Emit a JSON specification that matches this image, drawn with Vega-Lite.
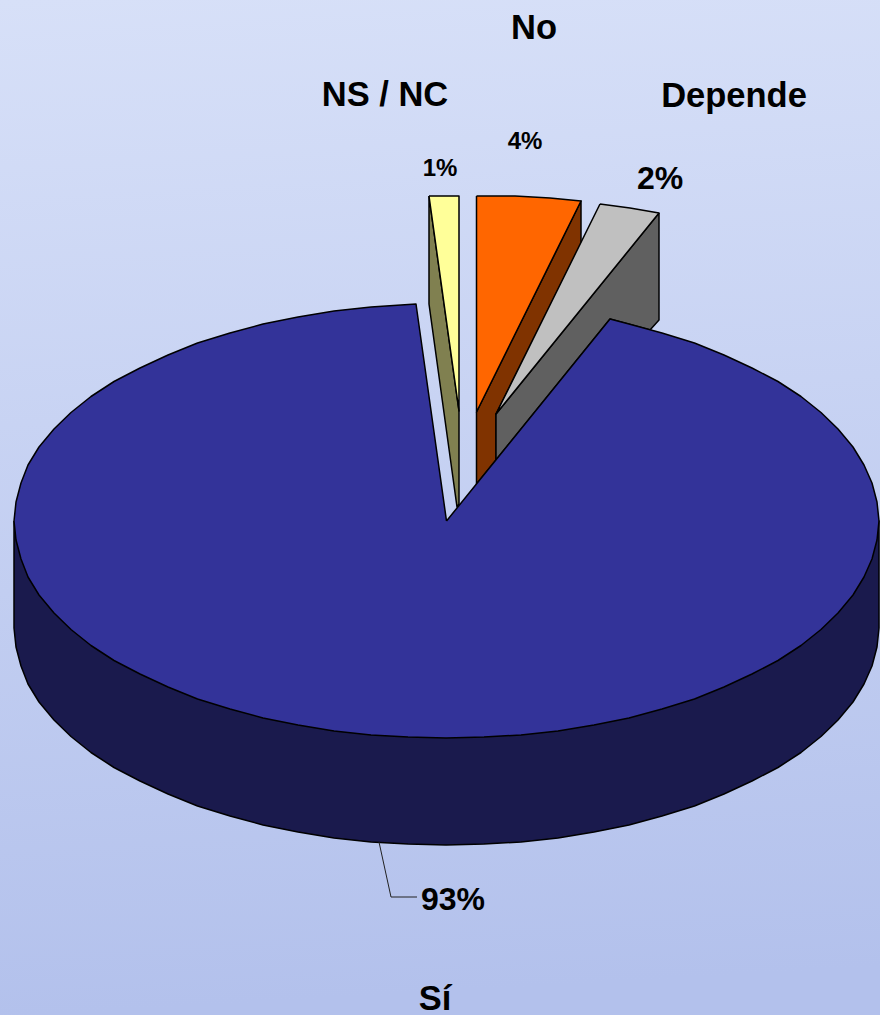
{"$schema":"https://vega.github.io/schema/vega-lite/v6.json","width":880,"height":1015,"padding":0,"autosize":{"type":"none"},"background":"#c5d0f1","view":{"stroke":null},
"datasets":{"shapes":[
{"p":"side","x":14,"y":521},{"p":"side","x":14,"y":628},{"p":"side","x":16,"y":647},{"p":"side","x":21,"y":666},{"p":"side","x":28,"y":684},{"p":"side","x":39,"y":702},{"p":"side","x":54,"y":720},{"p":"side","x":71,"y":736.5},{"p":"side","x":91,"y":752.5},{"p":"side","x":114,"y":767.5},{"p":"side","x":140,"y":781},{"p":"side","x":168,"y":794},{"p":"side","x":197.5,"y":806},{"p":"side","x":230,"y":816},{"p":"side","x":263,"y":825},{"p":"side","x":298,"y":832},{"p":"side","x":334,"y":838},{"p":"side","x":371,"y":842},{"p":"side","x":408,"y":844},{"p":"side","x":446,"y":845},{"p":"side","x":484,"y":844},{"p":"side","x":521,"y":842},{"p":"side","x":558,"y":838},{"p":"side","x":594,"y":832},{"p":"side","x":629,"y":825},{"p":"side","x":662,"y":816},{"p":"side","x":694.5,"y":806},{"p":"side","x":724,"y":794},{"p":"side","x":752,"y":781},{"p":"side","x":778,"y":767.5},{"p":"side","x":801,"y":752.5},{"p":"side","x":821,"y":736.5},{"p":"side","x":838,"y":720},{"p":"side","x":853,"y":702},{"p":"side","x":864,"y":684},{"p":"side","x":872,"y":666},{"p":"side","x":877,"y":647},{"p":"side","x":879,"y":628},{"p":"side","x":879,"y":521},{"p":"side","x":14,"y":521},
{"p":"ns side","x":429,"y":196},{"p":"ns side","x":459,"y":411},{"p":"ns side","x":459,"y":504},{"p":"ns side","x":457,"y":507},{"p":"ns side","x":429,"y":304},{"p":"ns side","x":429,"y":196},
{"p":"ns top","x":429,"y":196},{"p":"ns top","x":459,"y":196},{"p":"ns top","x":459,"y":411},{"p":"ns top","x":429,"y":196},
{"p":"no side","x":476.5,"y":412},{"p":"no side","x":581,"y":201},{"p":"no side","x":581,"y":244},{"p":"no side","x":496,"y":414},{"p":"no side","x":496,"y":460},{"p":"no side","x":476.5,"y":484},{"p":"no side","x":476.5,"y":412},
{"p":"no top","x":476.5,"y":196},{"p":"no top","x":515,"y":196},{"p":"no top","x":550,"y":198},{"p":"no top","x":581,"y":201},{"p":"no top","x":476.5,"y":412},{"p":"no top","x":476.5,"y":196},
{"p":"dep side","x":659,"y":213},{"p":"dep side","x":659,"y":320},{"p":"dep side","x":650,"y":330},{"p":"dep side","x":610,"y":319},{"p":"dep side","x":496,"y":460},{"p":"dep side","x":496,"y":414},{"p":"dep side","x":659,"y":213},
{"p":"dep top","x":600,"y":204},{"p":"dep top","x":630,"y":208},{"p":"dep top","x":659,"y":213},{"p":"dep top","x":496,"y":414},{"p":"dep top","x":600,"y":204},
{"p":"si top","x":446.5,"y":521},{"p":"si top","x":610,"y":319},{"p":"si top","x":629,"y":324},{"p":"si top","x":662,"y":333},{"p":"si top","x":694.5,"y":343},{"p":"si top","x":724,"y":355},{"p":"si top","x":752,"y":368},{"p":"si top","x":778,"y":381.5},{"p":"si top","x":801,"y":396.5},{"p":"si top","x":821,"y":412.5},{"p":"si top","x":838,"y":429},{"p":"si top","x":853,"y":447},{"p":"si top","x":864,"y":465},{"p":"si top","x":872,"y":483},{"p":"si top","x":877,"y":502},{"p":"si top","x":879,"y":521},{"p":"si top","x":877,"y":540},{"p":"si top","x":872,"y":559},{"p":"si top","x":864,"y":577},{"p":"si top","x":853,"y":595},{"p":"si top","x":838,"y":613},{"p":"si top","x":821,"y":629.5},{"p":"si top","x":801,"y":645.5},{"p":"si top","x":778,"y":660.5},{"p":"si top","x":752,"y":674},{"p":"si top","x":724,"y":687},{"p":"si top","x":694.5,"y":699},{"p":"si top","x":662,"y":709},{"p":"si top","x":629,"y":718},{"p":"si top","x":594,"y":725},{"p":"si top","x":558,"y":731},{"p":"si top","x":521,"y":735},{"p":"si top","x":484,"y":737},{"p":"si top","x":446,"y":738},{"p":"si top","x":408,"y":737},{"p":"si top","x":371,"y":735},{"p":"si top","x":334,"y":731},{"p":"si top","x":298,"y":725},{"p":"si top","x":263,"y":718},{"p":"si top","x":230,"y":709},{"p":"si top","x":197.5,"y":699},{"p":"si top","x":168,"y":687},{"p":"si top","x":140,"y":674},{"p":"si top","x":114,"y":660.5},{"p":"si top","x":91,"y":645.5},{"p":"si top","x":71,"y":629.5},{"p":"si top","x":54,"y":613},{"p":"si top","x":39,"y":595},{"p":"si top","x":28,"y":577},{"p":"si top","x":21,"y":559},{"p":"si top","x":16,"y":540},{"p":"si top","x":14,"y":521},{"p":"si top","x":16,"y":502},{"p":"si top","x":21,"y":483},{"p":"si top","x":28,"y":465},{"p":"si top","x":39,"y":447},{"p":"si top","x":54,"y":429},{"p":"si top","x":71,"y":412.5},{"p":"si top","x":91,"y":396.5},{"p":"si top","x":114,"y":381.5},{"p":"si top","x":140,"y":368},{"p":"si top","x":168,"y":355},{"p":"si top","x":197.5,"y":343},{"p":"si top","x":230,"y":333},{"p":"si top","x":263,"y":324},{"p":"si top","x":298,"y":317},{"p":"si top","x":334,"y":311},{"p":"si top","x":371,"y":307},{"p":"si top","x":416,"y":304},{"p":"si top","x":446.5,"y":521}
],
"labels":[
{"t":"Sí","k":"name","x":435,"y":1000},{"t":"No","k":"name","x":534,"y":29},{"t":"NS / NC","k":"name","x":385,"y":96},{"t":"Depende","k":"name","x":734,"y":97},
{"t":"93%","k":"big","x":453,"y":900},{"t":"2%","k":"big","x":660,"y":179},
{"t":"1%","k":"small","x":440,"y":169},{"t":"4%","k":"small","x":525,"y":142}],
"leader":[{"x":379,"y":842,"i":1},{"x":391,"y":897,"i":2},{"x":417,"y":897,"i":3}]},
"encoding":{"x":{"field":"x","type":"quantitative","scale":{"domain":[0,880],"nice":false,"zero":false},"axis":null},"y":{"field":"y","type":"quantitative","scale":{"domain":[1015,0],"nice":false,"zero":false},"axis":null}},
"layer":[
{"data":{"values":[{"x":0,"x2":880,"y":0,"y2":1015}]},"mark":{"type":"rect","fill":{"gradient":"linear","x1":0,"y1":0,"x2":0.05,"y2":1,"stops":[{"offset":0,"color":"#d7e0f8"},{"offset":1,"color":"#b3c1ec"}]}},"encoding":{"x2":{"field":"x2"},"y2":{"field":"y2"}}},
{"data":{"name":"shapes"},"transform":[{"window":[{"op":"row_number","as":"i"}]}],"mark":{"type":"line","stroke":"#000000","strokeWidth":1.5,"strokeJoin":"round","clip":false},"encoding":{"order":{"field":"i","type":"quantitative"},"detail":{"field":"p"},"fill":{"field":"p","type":"nominal","legend":null,"scale":{"domain":["side","ns side","ns top","no side","no top","dep side","dep top","si top"],"range":["#1a1a4d","#808050","#ffff99","#803300","#ff6600","#606060","#c0c0c0","#333399"]}}}},
{"data":{"name":"leader"},"mark":{"type":"line","stroke":"#222222","strokeWidth":1},"encoding":{"order":{"field":"i","type":"quantitative"}}},
{"data":{"name":"labels"},"transform":[{"filter":"datum.k=='name'"}],"mark":{"type":"text","font":"Liberation Sans","fontWeight":"bold","fontSize":34.5,"color":"#000000","align":"center","baseline":"middle"},"encoding":{"text":{"field":"t"}}},
{"data":{"name":"labels"},"transform":[{"filter":"datum.k=='big'"}],"mark":{"type":"text","font":"Liberation Sans","fontWeight":"bold","fontSize":32,"color":"#000000","align":"center","baseline":"middle"},"encoding":{"text":{"field":"t"}}},
{"data":{"name":"labels"},"transform":[{"filter":"datum.k=='small'"}],"mark":{"type":"text","font":"Liberation Sans","fontWeight":"bold","fontSize":24,"color":"#000000","align":"center","baseline":"middle"},"encoding":{"text":{"field":"t"}}}
]}
